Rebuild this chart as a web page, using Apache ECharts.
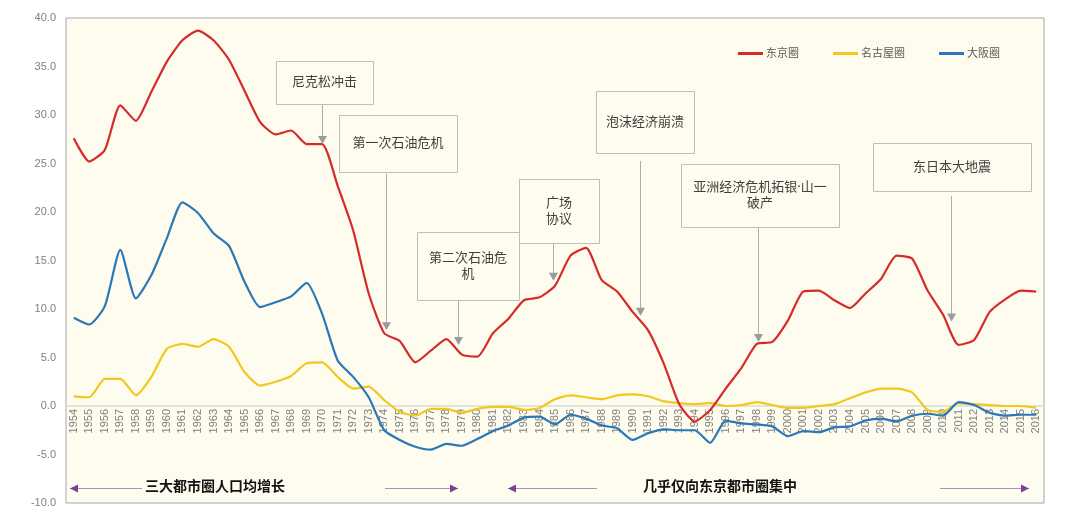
<!DOCTYPE html>
<html>
<head>
<meta charset="utf-8">
<script src="https://cdn.jsdelivr.net/npm/echarts@6/dist/echarts.min.js"></script>
<style>
html,body{margin:0;padding:0;background:#ffffff;}
#chart{width:1080px;height:522px;}
</style>
</head>
<body>
<div id="chart"></div>
<script>
// ---------- DATA ----------
const years = [];
for (let y = 1954; y <= 2016; y++) years.push(String(y));

const seriesNames = ['东京圈', '名古屋圈', '大阪圈'];

const tokyo = [27.6,25.2,26.4,31.0,29.4,32.4,35.5,37.7,38.7,37.7,35.7,32.5,29.3,28.0,28.4,27.0,27.0,22.7,18.1,11.6,
  7.5,6.7,4.5,5.7,6.9,5.3,5.1,7.5,9.0,10.9,11.2,12.4,15.5,16.3,13.0,11.8,9.7,7.8,4.4,0.2,
  -1.6,-0.4,1.8,3.9,6.4,6.6,8.8,11.8,11.9,10.9,10.1,11.6,13.1,15.5,15.2,11.9,9.4,6.3,6.8,9.7,
  11.0,11.9,11.8];

const nagoya = [1.0,0.9,2.8,2.8,1.1,3.0,5.9,6.4,6.1,6.9,6.1,3.5,2.1,2.5,3.1,4.4,4.5,3.0,1.8,2.0,
  0.6,-0.6,-1.0,-0.3,-0.3,-0.7,-0.3,-0.1,-0.1,-0.4,-0.2,0.7,1.1,0.9,0.7,1.1,1.2,1.0,0.5,0.3,
  0.2,0.3,0.0,0.1,0.4,0.1,-0.2,-0.2,0.0,0.2,0.8,1.4,1.8,1.8,1.4,-0.4,-0.6,0.3,0.2,0.1,
  0.0,0.0,-0.2];

const osaka = [9.1,8.4,10.3,16.1,11.1,13.5,17.3,21.0,19.9,17.8,16.5,12.8,10.2,10.7,11.3,12.7,9.5,4.7,3.0,0.9,
  -2.5,-3.5,-4.2,-4.5,-3.9,-4.1,-3.4,-2.6,-2.0,-1.2,-1.1,-1.9,-0.9,-1.3,-2.0,-2.3,-3.5,-2.8,-2.4,-2.5,
  -2.5,-3.8,-1.5,-1.8,-1.9,-2.1,-3.1,-2.6,-2.7,-2.2,-2.1,-1.5,-1.3,-1.6,-1.0,-0.8,-1.0,0.4,0.1,-0.7,
  -1.0,-0.9,-0.9];

// annotation texts and where their arrows point (year position, value)
const annoTexts = ['尼克松冲击', '第一次石油危机', '第二次石油危\n机', '广场\n协议', '泡沫经济崩溃', '亚洲经济危机拓银·山一\n破产', '东日本大地震'];
const annoYears = [1970, 1974.1, 1978.75, 1984.9, 1990.5, 1998.1, 2010.5];
const annoValues = [27.0, 7.8, 6.3, 12.9, 9.3, 6.6, 8.7];

const periodTexts = ['三大都市圈人口均增长', '几乎仅向东京都市圈集中'];

// ---------- LAYOUT / STYLE ----------
const colors = ['#D52B2B', '#F2C81E', '#2A78B8'];
const annoBoxes = [
  {x:276, y:61,  w:97,  h:43, gap:0},
  {x:339, y:115, w:118, h:57, gap:2},
  {x:417, y:232, w:102, h:68, gap:0},
  {x:519, y:179, w:80,  h:64, gap:0},
  {x:596, y:91,  w:98,  h:62, gap:8},
  {x:681, y:164, w:158, h:63, gap:0},
  {x:873, y:143, w:158, h:48, gap:5}
];
const CJK = '"Noto Sans", "Noto Sans CJK SC", sans-serif';
const GRID = {left: 66, right: 36, top: 18, bottom: 19};
const H = 522;
const YMIN = -10, YMAX = 40;
// distance (px) from grid bottom up to the zero line, so the category axis sits on zero
const zeroOffset = (0 - YMIN) / (YMAX - YMIN) * (H - GRID.top - GRID.bottom);

const chart = echarts.init(document.getElementById('chart'), null, {renderer: 'canvas'});

const option = {
  backgroundColor: '#ffffff',
  animation: false,
  grid: {
    left: GRID.left, right: GRID.right, top: GRID.top, bottom: GRID.bottom,
    containLabel: false, outerBoundsMode: 'none',
    show: true, backgroundColor: '#FEFCEE', borderColor: '#A6A6A6', borderWidth: 1
  },
  legend: {
    data: seriesNames,
    left: 733, top: 43,
    itemWidth: 25, itemHeight: 3, itemGap: 34,
    icon: 'rect',
    textStyle: {color: '#595959', fontSize: 11, fontFamily: CJK, padding: [0,0,0,-2]}
  },
  xAxis: {
    type: 'category',
    data: years,
    boundaryGap: true,
    position: 'bottom',
    offset: -zeroOffset,
    axisLine: {onZero: false, lineStyle: {color: '#DCDAD0', width: 1.5}},
    axisTick: {show: false},
    axisLabel: {interval: 0, rotate: 90, color: '#7F7F7F', fontSize: 11, margin: 3, fontFamily: 'Liberation Sans, sans-serif'},
    splitLine: {show: false}
  },
  yAxis: {
    type: 'value',
    min: YMIN, max: YMAX, interval: 5,
    axisLine: {show: false},
    axisTick: {show: false},
    splitLine: {show: false},
    axisLabel: {color: '#7F7F7F', fontSize: 11, margin: 10, fontFamily: 'Liberation Sans, sans-serif',
      formatter: v => v.toFixed(1)}
  },
  series: [
    {name: seriesNames[0], type: 'line', data: tokyo, smooth: 0.2, showSymbol: false, lineStyle: {width: 2.2, color: colors[0]}, itemStyle: {color: colors[0]}, z: 4},
    {name: seriesNames[1], type: 'line', data: nagoya, smooth: 0.2, showSymbol: false, lineStyle: {width: 2.2, color: colors[1]}, itemStyle: {color: colors[1]}, z: 3},
    {name: seriesNames[2], type: 'line', data: osaka, smooth: 0.2, showSymbol: false, lineStyle: {width: 2.2, color: colors[2]}, itemStyle: {color: colors[2]}, z: 3}
  ]
};
chart.setOption(option);

// pixel of a (possibly fractional) year position and a value, via the chart's own axes
function toPx(year, value) {
  const idx = year - 1954;
  const i0 = Math.floor(idx), f = idx - i0;
  const a = chart.convertToPixel({xAxisIndex: 0, yAxisIndex: 0}, [i0, value]);
  const b = chart.convertToPixel({xAxisIndex: 0, yAxisIndex: 0}, [Math.min(i0 + 1, years.length - 1), value]);
  return [a[0] + (b[0] - a[0]) * f * (i0 + 1 < years.length ? 1 : 0), a[1]];
}

const graphics = [];
annoTexts.forEach((t, i) => {
  const box = annoBoxes[i];
  const tip = toPx(annoYears[i], annoValues[i]);
  const x = Math.round(tip[0]) + 0.5;
  graphics.push({
    type: 'line', z: 50,
    shape: {x1: x, y1: box.y + box.h + box.gap, x2: x, y2: tip[1] - 7},
    style: {stroke: '#ADADAD', lineWidth: 1}
  });
  graphics.push({
    type: 'polygon', z: 50,
    shape: {points: [[x - 4.5, tip[1] - 8], [x + 4.5, tip[1] - 8], [x, tip[1]]]},
    style: {fill: '#9B9B9B'}
  });
  graphics.push({
    type: 'rect', z: 60,
    shape: {x: box.x + 0.5, y: box.y + 0.5, width: box.w, height: box.h},
    style: {fill: '#FEFCEE', stroke: '#BDBDBD', lineWidth: 1}
  });
  graphics.push({
    type: 'text', z: 61,
    x: box.x + box.w / 2, y: box.y + box.h / 2,
    style: {text: t, fill: '#404040', font: '13px ' + CJK, align: 'center', verticalAlign: 'middle', lineHeight: 16}
  });
});

// period arrows along the bottom
const arrowY = 488;
const purple = '#7A3E9D';
const lineC = '#A596BE';
function periodArrow(xStart, xEnd, dir) {
  graphics.push({type: 'line', z: 50, shape: {x1: xStart, y1: arrowY + 0.5, x2: xEnd, y2: arrowY + 0.5}, style: {stroke: lineC, lineWidth: 1}});
  const hx = dir < 0 ? xStart : xEnd;
  const pts = dir < 0 ? [[hx, arrowY + 0.5], [hx + 8, arrowY - 3.5], [hx + 8, arrowY + 4.5]]
                      : [[hx, arrowY + 0.5], [hx - 8, arrowY - 3.5], [hx - 8, arrowY + 4.5]];
  graphics.push({type: 'polygon', z: 51, shape: {points: pts}, style: {fill: purple}});
}
periodArrow(70, 142, -1);
periodArrow(385, 458, 1);
periodArrow(508, 597, -1);
periodArrow(940, 1029, 1);
graphics.push({type: 'text', z: 61, x: 215, y: 487,
  style: {text: periodTexts[0], fill: '#111111', font: 'bold 14px ' + CJK, align: 'center', verticalAlign: 'middle'}});
graphics.push({type: 'text', z: 61, x: 720, y: 487,
  style: {text: periodTexts[1], fill: '#111111', font: 'bold 14px ' + CJK, align: 'center', verticalAlign: 'middle'}});

chart.setOption({graphic: graphics});
</script>
</body>
</html>
